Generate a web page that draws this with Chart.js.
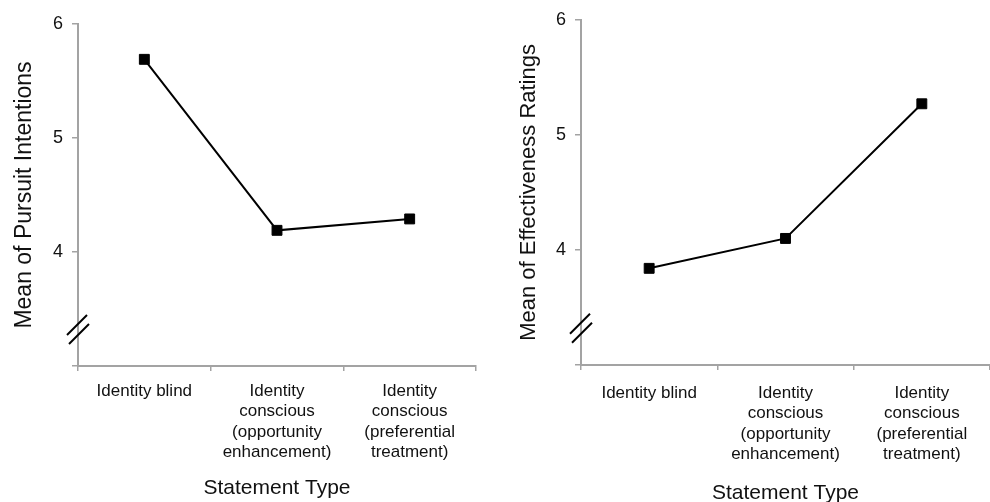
<!DOCTYPE html>
<html><head><meta charset="utf-8">
<script src="https://cdn.jsdelivr.net/npm/chart.js@4.4.0/dist/chart.umd.min.js"></script>
<style>
html,body{margin:0;padding:0;background:#fff;overflow:hidden}
#c1{position:absolute;left:0;top:0}
#c2{position:absolute;left:495px;top:0}
</style></head><body>
<canvas id="c1" width="495" height="502"></canvas>
<canvas id="c2" width="495" height="502"></canvas>
<script>
const categories = [
  ["Identity blind"],
  ["Identity", "conscious", "(opportunity", "enhancement)"],
  ["Identity", "conscious", "(preferential", "treatment)"]
];
const pursuitMeans = [5.69, 4.19, 4.29];
const effectivenessMeans = [3.84, 4.10, 5.27];
const yMin = 3;
const yMax = 6;
const yShownTicks = [4, 5, 6];
const breakAt = 3.32;
const xTitle = "Statement Type";
const leftYTitle = "Mean of Pursuit Intentions";
const rightYTitle = "Mean of Effectiveness Ratings";

const FONT = '"Liberation Sans", Arial, sans-serif';
const AXIS = '#a3a3a3';

const breakPlugin = {
  id: 'axisBreak',
  afterDraw(chart) {
    const ys = chart.scales.y;
    const ctx = chart.ctx;
    const cx = ys.right;
    const cy = ys.getPixelForValue(breakAt);
    ctx.save();
    ctx.strokeStyle = '#000';
    ctx.lineWidth = 2;
    for (const [dx, dy] of [[-1, -4.5], [1, 4.5]]) {
      ctx.beginPath();
      ctx.moveTo(cx + dx - 10, cy + dy + 10);
      ctx.lineTo(cx + dx + 10, cy + dy - 10);
      ctx.stroke();
    }
    ctx.restore();
  }
};

function makeChart(id, values, yTitle, geom) {
  return new Chart(document.getElementById(id), {
    type: 'line',
    data: {
      labels: categories,
      datasets: [{
        data: values,
        borderColor: '#000',
        borderWidth: 2,
        pointStyle: 'rect',
        pointRadius: 7,
        pointBorderWidth: 1,
        pointBackgroundColor: '#000',
        pointBorderColor: '#000',
        tension: 0,
        fill: false
      }]
    },
    options: {
      responsive: false,
      animation: false,
      events: [],
      layout: { autoPadding: false, padding: { top: geom.top, right: geom.right, bottom: 0, left: 0 } },
      plugins: { legend: { display: false }, tooltip: { enabled: false } },
      scales: {
        x: {
          type: 'category',
          offset: true,
          afterFit(s) { s.height = geom.xh; },
          grid: { display: true, drawOnChartArea: false, drawTicks: true, tickLength: 5, color: AXIS, lineWidth: 1.5, offset: true },
          border: { display: true, color: AXIS, width: 2 },
          ticks: { color: '#111', font: { family: FONT, size: 17, lineHeight: 1.2 }, padding: geom.xtkp, maxRotation: 0, autoSkip: false },
          title: { display: true, text: xTitle, color: '#111', font: { family: FONT, size: 21, lineHeight: geom.xtlh }, padding: { top: 0, bottom: geom.xtp } }
        },
        y: {
          min: yMin, max: yMax,
          afterFit(s) { s.width = geom.yw; },
          grid: { display: true, drawOnChartArea: false, drawTicks: true, tickLength: 6, color: AXIS, lineWidth: 1.5 },
          border: { display: true, color: AXIS, width: 2 },
          ticks: {
            stepSize: 1,
            color: '#111',
            padding: 9,
            font: { family: FONT, size: 18 },
            callback: (v) => yShownTicks.includes(v) ? String(v) : ''
          },
          title: { display: true, text: yTitle, color: '#111', font: { family: FONT, size: geom.yts, lineHeight: 1 }, padding: { top: geom.ytp, bottom: 0 } }
        }
      }
    },
    plugins: [breakPlugin]
  });
}

makeChart('c1', pursuitMeans, leftYTitle, { top: 24, right: 19, xh: 136, yw: 78, xtp: 3, xtlh: 1, xtkp: 10, ytp: 13, yts: 23 });
makeChart('c2', effectivenessMeans, rightYTitle, { top: 14, right: 0, xh: 137, yw: 86, xtp: 0, xtlh: 0.8, xtkp: 13, ytp: 23, yts: 22 });
</script>
</body></html>
